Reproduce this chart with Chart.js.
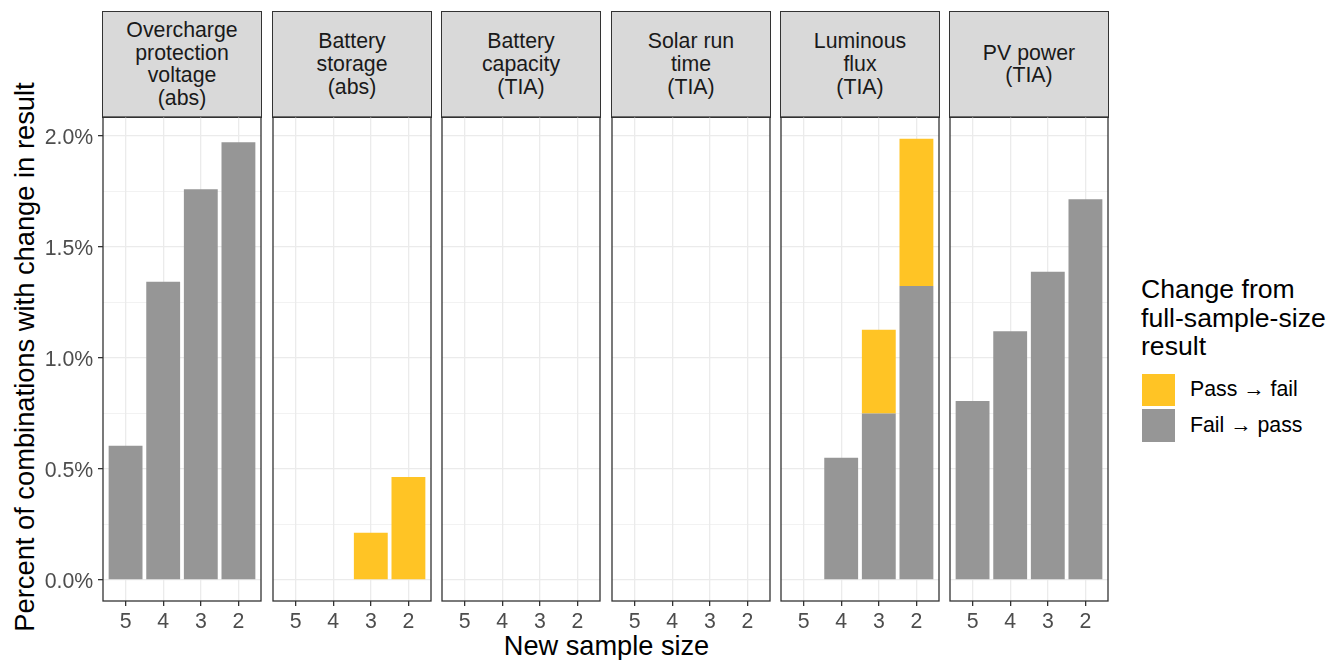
<!DOCTYPE html>
<html><head><meta charset="utf-8">
<script src="https://cdn.jsdelivr.net/npm/chart.js@4.4.1/dist/chart.umd.min.js"></script>
<style>
html,body{margin:0;padding:0;background:#fff;}
body{width:1340px;height:660px;position:relative;overflow:hidden;font-family:"Liberation Sans",Arial,Helvetica,sans-serif;}
canvas{position:absolute;}
.t{position:absolute;white-space:nowrap;}
.strip{position:absolute;background:#D9D9D9;border:1.3px solid #333333;box-sizing:border-box;}
.key{position:absolute;}
</style></head><body>
<script>
// ---------------- data ----------------
const sampleSizes = ['5', '4', '3', '2'];
const facetLabels = [
  ['Overcharge', 'protection', 'voltage', '(abs)'],
  ['Battery', 'storage', '(abs)'],
  ['Battery', 'capacity', '(TIA)'],
  ['Solar run', 'time', '(TIA)'],
  ['Luminous', 'flux', '(TIA)'],
  ['PV power', '(TIA)']
];
// percent of combinations, per facet, for sample sizes 5,4,3,2
const failToPass = [
  [0.605, 1.343, 1.760, 1.972],
  [null, null, null, null],
  [null, null, null, null],
  [null, null, null, null],
  [null, 0.551, 0.750, 1.324],
  [0.806, 1.120, 1.388, 1.715]
];
const passToFail = [
  [null, null, null, null],
  [null, null, 0.213, 0.464],
  [null, null, null, null],
  [null, null, null, null],
  [null, null, 0.377, 0.663],
  [null, null, null, null]
];
const yTickValues = [0, 0.5, 1.0, 1.5, 2.0];
const yMinorValues = [0.25, 0.75, 1.25, 1.75];
const seriesNames = ['Pass \u2192 fail', 'Fail \u2192 pass'];
const legendTitle = ['Change from', 'full-sample-size', 'result'];
const xTitle = 'New sample size';
const yTitle = 'Percent of combinations with change in result';

// ---------------- styles / layout ----------------
const COL_PASSFAIL = '#FFC425';
const COL_FAILPASS = '#969696';
const PANEL_LEFTS = [103, 273, 442, 612, 781, 950];
const PANEL_W = 158;
const PLOT_TOP = 117, PLOT_BOTTOM = 601;
const STRIP_TOP = 10.5;
const CANVAS_TOP = 107, CANVAS_H = 530, AXIS_W = 60, RIGHT_PAD = 4;
const FONT = '"Liberation Sans", Arial, Helvetica, sans-serif';
const SMALL = 21.3, BIG = 26.6;

function textAt(str, x, baseline, size, color, align) {
  const d = document.createElement('div');
  d.className = 't';
  d.textContent = str;
  d.style.fontSize = size + 'px';
  d.style.lineHeight = size + 'px';
  d.style.color = color;
  d.style.top = (baseline - 0.8465 * size) + 'px';
  d.style.left = x + 'px';
  if (align === 'center') d.style.transform = 'translateX(-50%)';
  document.body.appendChild(d);
  return d;
}

// strips
facetLabels.forEach((lines, i) => {
  const s = document.createElement('div');
  s.className = 'strip';
  s.style.left = (PANEL_LEFTS[i] - 0.65) + 'px';
  s.style.top = STRIP_TOP + 'px';
  s.style.width = (PANEL_W + 1.3) + 'px';
  s.style.height = (PLOT_TOP - STRIP_TOP + 0.65) + 'px';
  document.body.appendChild(s);
  const cy = (STRIP_TOP + PLOT_TOP) / 2 + 0.6;
  const n = lines.length;
  lines.forEach((ln, k) => {
    const capCenter = cy + (k - (n - 1) / 2) * 22.7;
    textAt(ln, PANEL_LEFTS[i] + PANEL_W / 2, capCenter + 7.6, SMALL, '#1A1A1A', 'center');
  });
});

// axis titles
textAt(xTitle, (PANEL_LEFTS[0] + PANEL_LEFTS[5] + PANEL_W) / 2 + 1, 655, 27.2, '#000', 'center');
(function () {
  const size = 27.3;
  const d = document.createElement('div');
  d.className = 't';
  d.textContent = yTitle;
  d.style.fontSize = size + 'px';
  d.style.lineHeight = size + 'px';
  d.style.color = '#000';
  d.style.left = '24.8px';
  d.style.top = ((PLOT_TOP + PLOT_BOTTOM) / 2 - 2) + 'px';
  d.style.transform = 'translate(-50%,-50%) rotate(-90deg)';
  document.body.appendChild(d);
})();

// legend
legendTitle.forEach((ln, k) => textAt(ln, 1141, 298.5 + k * 28.7, BIG, '#000', 'left'));
[[COL_PASSFAIL, 373.5], [COL_FAILPASS, 409.2]].forEach(([c, top], k) => {
  const kd = document.createElement('div');
  kd.className = 'key';
  kd.style.left = '1141.5px';
  kd.style.top = top + 'px';
  kd.style.width = '33px';
  kd.style.height = '32.5px';
  kd.style.background = c;
  document.body.appendChild(kd);
  textAt(seriesNames[k], 1190, top + 16.2 + 7.6, SMALL, '#000', 'left');
});

// ---------------- charts ----------------
const labelPlugin = {
  id: 'facetDecor',
  afterDraw(chart) {
    const ctx = chart.ctx;
    const ca = chart.chartArea;
    const xs = chart.scales.x, ys = chart.scales.y;
    ctx.save();
    ctx.strokeStyle = '#333333';
    ctx.lineWidth = 1.3;
    ctx.strokeRect(ca.left, ca.top, ca.right - ca.left, ca.bottom - ca.top);
    ctx.fillStyle = '#4D4D4D';
    ctx.font = SMALL + 'px ' + FONT;
    ctx.textBaseline = 'alphabetic';
    ctx.textAlign = 'center';
    xs.ticks.forEach(t => {
      ctx.fillText(sampleSizes[t.value - 1], xs.getPixelForValue(t.value), ca.bottom + 26.7);
    });
    if (chart.options.plugins.facetDecor.showY) {
      ctx.textAlign = 'right';
      yTickValues.forEach(v => {
        ctx.fillText(v.toFixed(1) + '%', ca.left - 9.7, ys.getPixelForValue(v) + 7.7);
      });
    }
    ctx.restore();
  }
};

function isMajor(v) { return yTickValues.some(m => Math.abs(m - v) < 1e-9); }

PANEL_LEFTS.forEach((pl, i) => {
  const cv = document.createElement('canvas');
  const cw = AXIS_W + PANEL_W + RIGHT_PAD;
  cv.width = cw; cv.height = CANVAS_H;
  cv.style.width = cw + 'px'; cv.style.height = CANVAS_H + 'px';
  cv.style.left = (pl - AXIS_W) + 'px';
  cv.style.top = CANVAS_TOP + 'px';
  document.body.appendChild(cv);
  const toPts = arr => arr.map((v, j) => ({ x: j + 1, y: v })).filter(p => p.y !== null);
  const showY = i === 0;
  new Chart(cv.getContext('2d'), {
    type: 'bar',
    data: {
      datasets: [
        { label: seriesNames[1], data: toPts(failToPass[i]), backgroundColor: COL_FAILPASS, borderWidth: 0,
          barPercentage: 0.9, categoryPercentage: 1.0 },
        { label: seriesNames[0], data: toPts(passToFail[i]), backgroundColor: COL_PASSFAIL, borderWidth: 0,
          barPercentage: 0.9, categoryPercentage: 1.0 }
      ]
    },
    options: {
      responsive: false, animation: false, devicePixelRatio: 1,
      layout: { padding: { top: PLOT_TOP - CANVAS_TOP, left: 0, right: RIGHT_PAD, bottom: 0 } },
      plugins: { legend: { display: false }, tooltip: { enabled: false }, facetDecor: { showY } },
      scales: {
        x: {
          type: 'linear', min: 0.4, max: 4.6, stacked: true, offset: false,
          afterBuildTicks: s => { s.ticks = sampleSizes.map((_, j) => ({ value: j + 1 })); },
          ticks: { display: false },
          grid: { offset: false, color: '#EBEBEB', lineWidth: 1.3, drawTicks: true, tickLength: 5, tickColor: '#333333', tickWidth: 1.3 },
          border: { display: false },
          afterFit: s => { s.height = CANVAS_H - (PLOT_BOTTOM - CANVAS_TOP); }
        },
        y: {
          type: 'linear', min: -0.0945, max: 2.0855, stacked: true,
          afterBuildTicks: s => {
            s.ticks = yTickValues.concat(yMinorValues).sort((a, b) => a - b).map(v => ({ value: v }));
          },
          ticks: { display: false },
          grid: {
            offset: false,
            color: '#EBEBEB',
            lineWidth: c => (c.tick && isMajor(c.tick.value)) ? 1.3 : 0.65,
            drawTicks: true, tickLength: 5,
            tickColor: c => (showY && c.tick && isMajor(c.tick.value)) ? '#333333' : 'rgba(0,0,0,0)',
            tickWidth: 1.3
          },
          border: { display: false },
          afterFit: s => { s.width = AXIS_W; }
        }
      }
    },
    plugins: [labelPlugin]
  });
});
</script>
</body></html>
